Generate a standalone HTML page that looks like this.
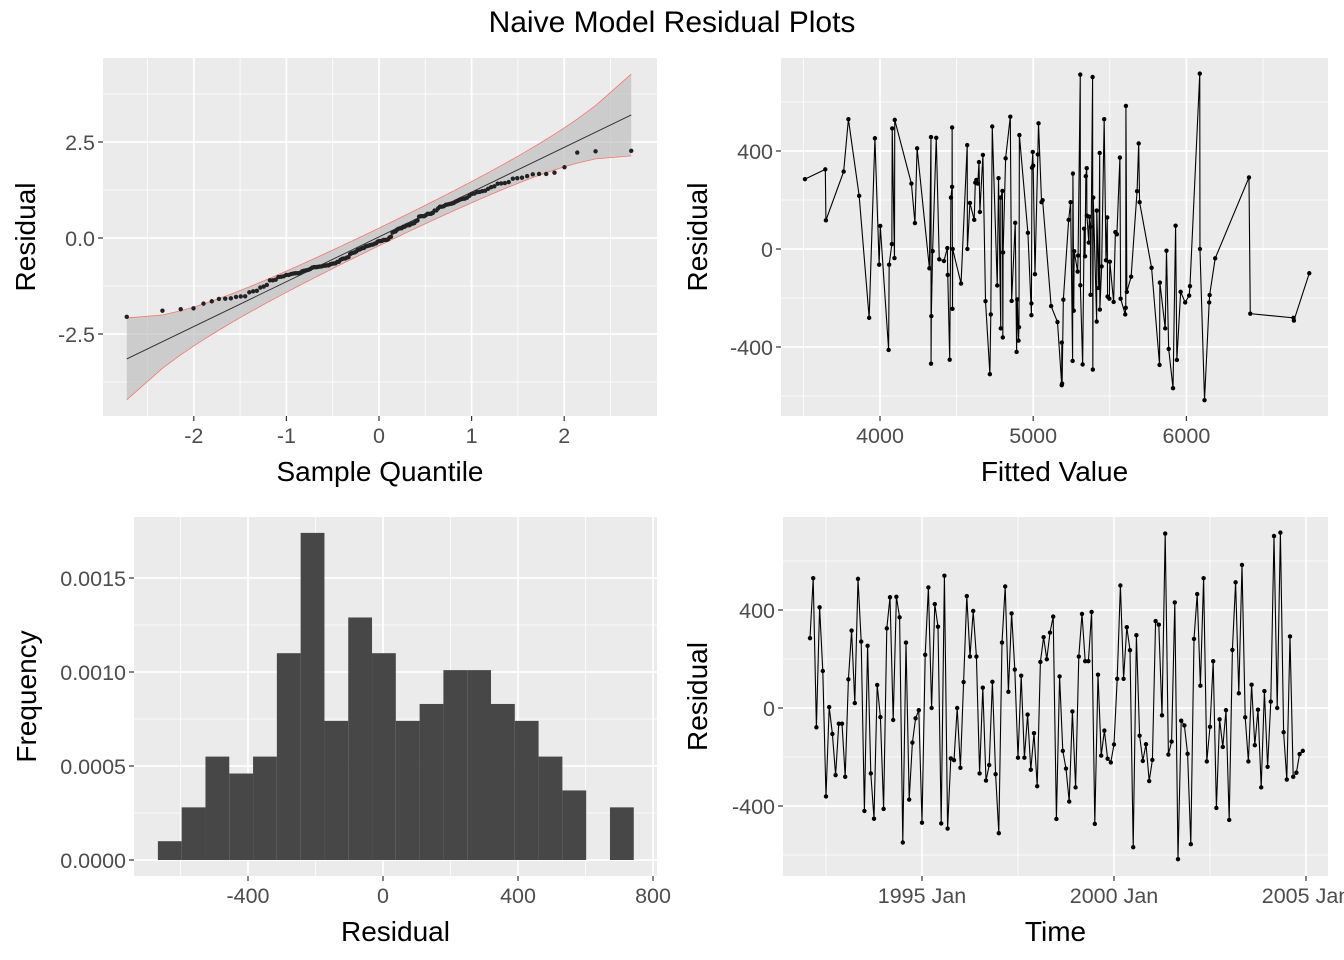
<!DOCTYPE html>
<html><head><meta charset="utf-8"><style>
html,body{margin:0;padding:0;background:#fff;}
svg{display:block;font-family:"Liberation Sans",Arial,sans-serif;}
</style></head><body>
<svg id="chart" width="1344" height="960" viewBox="0 0 1344 960">
<text x="672" y="32" text-anchor="middle" font-size="30" fill="#000">Naive Model Residual Plots</text>
</svg>
<script>
// ---- data ----
const residuals = [285,530,-79,411,151,-361,4,-106,-274,-64,-64,-281,117,316,20,527,271,-420,254,-267,-452,94,-37,-412,325,452,-49,454,370,-549,267,-374,-141,-42,-9,-468,217,492,0,424,
332,-471,540,-492,-206,-213,0,-244,106,457,210,396,210,-267,83,-296,-233,107,-270,-511,267,496,66,386,157,-203,132,-203,-27,-252,-103,-319,188,289,199,308,373,-453,129,-175,-247,
-382,-14,-324,210,384,191,191,392,-473,136,-194,-92,-207,-222,-149,119,500,119,330,236,-568,297,-113,-216,-148,-298,-212,355,340,-30,712,-190,-137,431,-617,-52,-71,-187,-556,282,
465,91,530,-218,-77,191,-408,-46,-159,-9,-457,237,513,60,584,-38,-218,95,-152,-7,-324,69,-240,26,702,0,716,-99,-292,292,-281,-264,-188,-175];
const startYear = 1992 + 1/12;
const startLevel = 3510;
const readingBias = -1.25; // per-step calibration of read residuals for the level series
const histStart = -667;
const histBinWidth = 70.5;
const histDensity = [0.0001,0.00028,0.00055,0.00046,0.00055,0.0011,0.00174,0.00074,0.00129,0.0011,0.00074,0.00083,0.00101,0.00101,0.00083,0.00074,0.00055,0.00037,0,0.00028];
const qqMajorX = [-2,-1,0,1,2], qqMinorX = [-2.5,-1.5,-0.5,0.5,1.5,2.5];
const qqMajorY = [-2.5,0,2.5], qqMinorY = [-3.75,-1.25,1.25,3.75];
const fvMajorX = [4000,5000,6000], fvMinorX = [3500,4500,5500,6500];
const resMajorY = [-400,0,400], resMinorY = [-600,-200,200,600];
const hiMajorX = [-400,0,400,800], hiMinorX = [-600,-200,200,600];
const hiMajorY = [0,0.0005,0.001,0.0015], hiMinorY = [0.00025,0.00075,0.00125];
const hiYLabels = ["0.0000","0.0005","0.0010","0.0015"];
const tsMajorX = [1995,2000,2005], tsMinorX = [1992.5,1997.5,2002.5];
const tsXLabels = ["1995 Jan","2000 Jan","2005 Jan"];

const NS = "http://www.w3.org/2000/svg";
const svg = document.getElementById('chart');
function mk(tag, attrs, parent){const e=document.createElementNS(NS,tag);for(const k in attrs)e.setAttribute(k,attrs[k]);(parent||svg).appendChild(e);return e;}

function panel(p, name, majX, minX, majY, minY, sx, sy, xl, yl, xTitle, yTitle){
  const g = mk('g',{});
  
  
  const bg = mk('rect',{x:p.x0,y:p.y0,width:p.x1-p.x0,height:p.y1-p.y0,fill:'#ebebeb'},g);
  
  
  minX.forEach(v=>{const l=mk('line',{x1:sx(v),x2:sx(v),y1:p.y0,y2:p.y1,stroke:'#fff','stroke-width':0.8},g);
    
    });
  minY.forEach(v=>{const l=mk('line',{x1:p.x0,x2:p.x1,y1:sy(v),y2:sy(v),stroke:'#fff','stroke-width':0.8},g);
    
    });
  majX.forEach((v,i)=>{const l=mk('line',{x1:sx(v),x2:sx(v),y1:p.y0,y2:p.y1,stroke:'#fff','stroke-width':1.7},g);
    
    
    const t=mk('line',{x1:sx(v),x2:sx(v),y1:p.y1,y2:p.y1+5,stroke:'#333','stroke-width':1.2},g);
    
    
    const tx=mk('text',{x:sx(v),y:p.y1+27,'text-anchor':'middle','font-size':21.5,fill:'#4d4d4d'},g);
    tx.textContent = xl ? xl[i] : String(v);
    
    });
  majY.forEach((v,i)=>{const l=mk('line',{x1:p.x0,x2:p.x1,y1:sy(v),y2:sy(v),stroke:'#fff','stroke-width':1.7},g);
    
    
    const t=mk('line',{x1:p.x0-5,x2:p.x0,y1:sy(v),y2:sy(v),stroke:'#333','stroke-width':1.2},g);
    
    
    const tx=mk('text',{x:p.x0-8,y:sy(v)+8,'text-anchor':'end','font-size':21.5,fill:'#4d4d4d'},g);
    tx.textContent = yl ? yl[i] : String(v);
    
    });
  const xt=mk('text',{x:(p.x0+p.x1)/2,y:p.y1+65,'text-anchor':'middle','font-size':28,fill:'#000'},g);
  xt.textContent=xTitle;
  
  
  const cy=(p.y0+p.y1)/2, cx=p.x0-p.yt;
  const yt=mk('text',{x:cx,y:cy,'text-anchor':'middle','font-size':28,fill:'#000',transform:`rotate(-90 ${cx} ${cy})`},g);
  yt.textContent=yTitle;
  
  
  return g;
}
function qnorm(p){ // Acklam approximation
  const a=[-39.6968302866538,220.946098424521,-275.928510446969,138.357751867269,-30.6647980661472,2.50662827745924];
  const b=[-54.4760987982241,161.585836858041,-155.698979859887,66.8013118877197,-13.2806815528857];
  const c=[-0.00778489400243029,-0.322396458041136,-2.40075827716184,-2.54973253934373,4.37466414146497,2.93816398269878];
  const d=[0.00778469570904146,0.32246712907004,2.445134137143,3.75440866190742];
  let q,r;
  if(p<0.02425){q=Math.sqrt(-2*Math.log(p));return (((((c[0]*q+c[1])*q+c[2])*q+c[3])*q+c[4])*q+c[5])/((((d[0]*q+d[1])*q+d[2])*q+d[3])*q+1);}
  if(p>1-0.02425){q=Math.sqrt(-2*Math.log(1-p));return -(((((c[0]*q+c[1])*q+c[2])*q+c[3])*q+c[4])*q+c[5])/((((d[0]*q+d[1])*q+d[2])*q+d[3])*q+1);}
  q=p-0.5;r=q*q;return (((((a[0]*r+a[1])*r+a[2])*r+a[3])*r+a[4])*r+a[5])*q/(((((b[0]*r+b[1])*r+b[2])*r+b[3])*r+b[4])*r+1);
}
function path(pts){return pts.map((p,i)=>(i?'L':'M')+p[0].toFixed(2)+' '+p[1].toFixed(2)).join(' ');}

// ---- Panel 1: QQ plot ----
(function(){
  const p={x0:103,x1:657,y0:58,y1:416,yt:68};
  const sx=v=>379+v*92.6, sy=v=>238-v*38.4;
  const g=panel(p,'qq-plot-panel',qqMajorX,qqMinorX,qqMajorY,qqMinorY,sx,sy,null,["-2.5","0.0","2.5"],'Sample Quantile','Residual');
  const n=residuals.length;
  const mean=residuals.reduce((a,b)=>a+b,0)/n;
  const sd=Math.sqrt(residuals.reduce((a,b)=>a+(b-mean)*(b-mean),0)/(n-1));
  const z=residuals.map(r=>(r-mean)/sd).sort((a,b)=>a-b);
  const th=z.map((_,i)=>qnorm((i+0.5)/n));
  const q1=z[Math.floor(0.25*(n-1))], q3=z[Math.floor(0.75*(n-1))];
  const slope=(q3-q1)/(qnorm(0.75)-qnorm(0.25)), icpt=q1-slope*qnorm(0.25);
  const up=[],lo=[];
  th.forEach((t,i)=>{const pp=(i+0.5)/n;const dn=Math.exp(-t*t/2)/Math.sqrt(2*Math.PI);
    const se=1.96*slope*Math.sqrt(pp*(1-pp)/n)/dn;const c=icpt+slope*t;up.push([sx(t),sy(c+se)]);lo.push([sx(t),sy(c-se)]);});
  const band=mk('path',{d:path(up.concat(lo.slice().reverse()))+'Z',fill:'#bfbfbf','fill-opacity':0.7},g);
  
  
  const bu=mk('path',{d:path(up),fill:'none',stroke:'#f8766d','stroke-width':0.8},g);
  
  
  const bl=mk('path',{d:path(lo),fill:'none',stroke:'#f8766d','stroke-width':0.8},g);
  
  
  const t0=th[0],t1=th[n-1];
  const rl=mk('line',{x1:sx(t0),y1:sy(icpt+slope*t0),x2:sx(t1),y2:sy(icpt+slope*t1),stroke:'#333','stroke-width':1},g);
  
  
  z.forEach((v,i)=>{const c=mk('circle',{cx:sx(th[i]),cy:sy(v),r:2.2,fill:'#222'},g);
    
    });
})();

// ---- Panel 2: residual vs fitted ----
(function(){
  const p={x0:781,x1:1328,y0:58,y1:416,yt:74};
  const sx=v=>880+(v-4000)*0.1532, sy=v=>249-v*0.2450;
  const g=panel(p,'fitted-vs-residual-panel',fvMajorX,fvMinorX,resMajorY,resMinorY,sx,sy,null,null,'Fitted Value','Residual');
  let lvl=startLevel;const pts=[];
  residuals.forEach(r=>{pts.push([lvl,r]);lvl+=r+readingBias;});
  pts.sort((a,b)=>a[0]-b[0]);
  const ln=mk('path',{d:path(pts.map(q=>[sx(q[0]),sy(q[1])])),fill:'none',stroke:'#000','stroke-width':1.1},g);
  
  
  pts.forEach(q=>{const c=mk('circle',{cx:sx(q[0]),cy:sy(q[1]),r:2.2,fill:'#000'},g);
    
    });
})();

// ---- Panel 3: histogram ----
(function(){
  const p={x0:134,x1:657,y0:517,y1:876,yt:98};
  const sx=v=>383+v*0.3375, sy=v=>860-v*188000;
  const g=panel(p,'histogram-panel',hiMajorX,hiMinorX,hiMajorY,hiMinorY,sx,sy,null,hiYLabels,'Residual','Frequency');
  histDensity.forEach((d,i)=>{if(d<=0)return;
    const a=histStart+i*histBinWidth;
    const r=mk('rect',{x:sx(a),y:sy(d),width:sx(a+histBinWidth)-sx(a),height:sy(0)-sy(d),fill:'#474747'},g);
    
    });
})();

// ---- Panel 4: time series ----
(function(){
  const p={x0:783,x1:1328,y0:517,y1:876,yt:76};
  const sx=v=>922+(v-1995)*38.4, sy=v=>708-v*0.2450;
  const g=panel(p,'residual-time-series-panel',tsMajorX,tsMinorX,resMajorY,resMinorY,sx,sy,tsXLabels,null,'Time','Residual');
  const pts=residuals.map((r,i)=>[sx(startYear+i/12),sy(r)]);
  const ln=mk('path',{d:path(pts),fill:'none',stroke:'#000','stroke-width':1.1},g);
  
  
  pts.forEach(q=>{const c=mk('circle',{cx:q[0],cy:q[1],r:2.2,fill:'#000'},g);
    
    });
})();
</script>
</body></html>
